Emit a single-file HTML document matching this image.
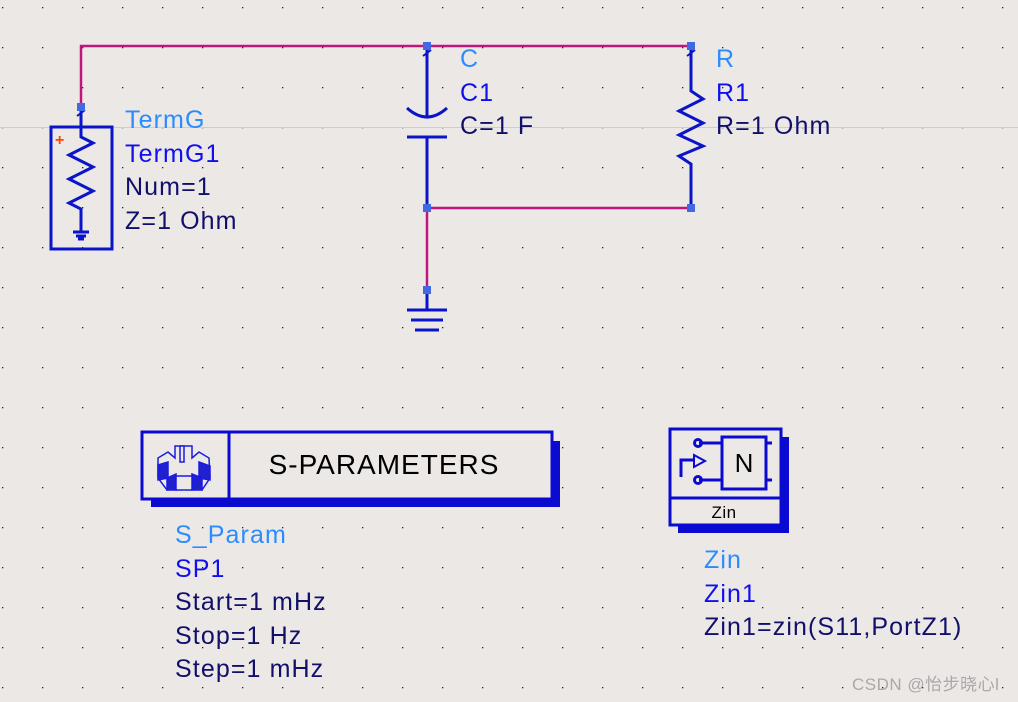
<!DOCTYPE html>
<html><head><meta charset="utf-8"><style>
html,body{margin:0;padding:0;background:#ece8e6;}
svg{display:block}
text{font-family:"Liberation Sans",sans-serif;font-size:25px;letter-spacing:1.1px}
.a{fill:#2a8cff}.b{fill:#1010ee}.c{fill:#10106a}
</style></head><body>
<svg width="1018" height="702" xmlns="http://www.w3.org/2000/svg">
<defs><pattern id="g" x="0" y="0" width="40" height="40" patternUnits="userSpaceOnUse"><rect x="2" y="7" width="1.3" height="1.3" fill="#222"/></pattern></defs>
<rect width="1018" height="702" fill="#ece8e6"/>
<rect width="1018" height="702" fill="url(#g)"/>
<line x1="0" y1="127.5" x2="1018" y2="127.5" stroke="#cfcccb" stroke-width="1"/>
<g stroke="#c0147e" stroke-width="2.5" fill="none">
<polyline points="81,107 81,46 691,46"/>
<line x1="427" y1="208" x2="691" y2="208"/>
<line x1="427" y1="208" x2="427" y2="290"/>
</g>
<g stroke="#0a14c8" stroke-width="3" fill="none">
<rect x="51" y="127" width="61" height="122"/>
<polyline points="81,107 81,137 93,143 69,155 93,167 69,179 93,191 69,203 81,209 81,232"/>
<line x1="73" y1="232" x2="89" y2="232"/><line x1="76" y1="236" x2="86" y2="236"/><line x1="78" y1="239" x2="84" y2="239"/>
<line x1="77" y1="116" x2="85" y2="110" stroke-width="2"/>
<line x1="427" y1="46" x2="427" y2="118"/>
<path d="M407,108 Q427,126 447,108"/>
<line x1="407" y1="137" x2="447" y2="137"/>
<line x1="427" y1="137" x2="427" y2="208"/>
<line x1="423" y1="56" x2="431" y2="50" stroke-width="2"/>
<line x1="427" y1="290" x2="427" y2="310"/>
<line x1="407" y1="310" x2="447" y2="310"/>
<line x1="411" y1="320" x2="443" y2="320"/>
<line x1="415" y1="330" x2="439" y2="330"/>
<polyline points="691,46 691,91 703,99 679,111 703,123 679,135 703,146 679,156 691,164 691,208"/>
<line x1="687" y1="56" x2="695" y2="50" stroke-width="2"/>
</g>
<g fill="#4169e1">
<rect x="77" y="103" width="8" height="8"/><rect x="423" y="42" width="8" height="8"/><rect x="687" y="42" width="8" height="8"/>
<rect x="423" y="204" width="8" height="8"/><rect x="687" y="204" width="8" height="8"/><rect x="423" y="286" width="8" height="8"/>
</g>
<text x="55" y="145" style="font-size:16px;font-weight:bold;letter-spacing:0" fill="#ff4500">+</text>
<text x="125" y="128" class="a">TermG</text>
<text x="125" y="162" class="b">TermG1</text>
<text x="125" y="195" class="c">Num=1</text>
<text x="125" y="229" class="c">Z=1 Ohm</text>
<text x="460" y="67" class="a">C</text>
<text x="460" y="101" class="b">C1</text>
<text x="460" y="134" class="c">C=1 F</text>
<text x="716" y="67" class="a">R</text>
<text x="716" y="101" class="b">R1</text>
<text x="716" y="134" class="c">R=1 Ohm</text>
<rect x="151" y="441" width="409" height="66" fill="#0a0ad0"/>
<rect x="142" y="432" width="410" height="67" fill="#ece8e6" stroke="#0a0ad0" stroke-width="3"/>
<line x1="229" y1="432" x2="229" y2="499" stroke="#0a0ad0" stroke-width="3"/>
<g stroke="#1a1ae0" stroke-width="1.5" fill="#ece8e6">
<path d="M158,458 L168,452 L175,458 L175,446 L192,446 L192,458 L199,452 L209,458 L210,478 L202,490 L194,480 L185,482 L176,480 L167,490 L158,478 Z"/>
<path d="M158,465 L168,462 L168,478 L158,480 Z M199,462 L210,466 L210,480 L199,478 Z M167,478 L176,474 L176,490 L167,490 Z M192,474 L202,478 L202,490 L192,490 Z" fill="#2020d0"/>
<path d="M176,476 L192,476 L192,490 L176,490 Z"/>
<path d="M180,446 L184,446 L184,462 L180,462 Z"/>
</g>
<text x="384" y="474" text-anchor="middle" style="font-size:28px;letter-spacing:1px" fill="#000">S-PARAMETERS</text>
<text x="175" y="543" class="a">S_Param</text>
<text x="175" y="577" class="b">SP1</text>
<text x="175" y="610" class="c">Start=1 mHz</text>
<text x="175" y="644" class="c">Stop=1 Hz</text>
<text x="175" y="677" class="c">Step=1 mHz</text>
<rect x="678" y="437" width="111" height="96" fill="#0a0ad0"/>
<rect x="670" y="429" width="111" height="96" fill="#ece8e6" stroke="#0a0ad0" stroke-width="3"/>
<line x1="670" y1="498" x2="781" y2="498" stroke="#0a0ad0" stroke-width="3"/>
<g stroke="#0a0ad0" stroke-width="3" fill="none">
<rect x="722" y="437" width="44" height="52"/>
<line x1="699" y1="443" x2="722" y2="443"/><line x1="699" y1="480" x2="722" y2="480"/>
<line x1="766" y1="443" x2="772" y2="443"/><line x1="766" y1="480" x2="772" y2="480"/>
<circle cx="698" cy="443" r="3.5"/><circle cx="698" cy="480" r="3.5"/>
<polyline points="681,477 681,460 694,460"/>
<path d="M694,455 L705,461 L694,467 Z" stroke-width="2"/>
</g>
<text x="744" y="472" text-anchor="middle" style="font-size:26px;letter-spacing:0" fill="#000">N</text>
<text x="724" y="518" text-anchor="middle" style="font-size:17px;letter-spacing:0.5px" fill="#000">Zin</text>
<text x="704" y="568" class="a">Zin</text>
<text x="704" y="602" class="b">Zin1</text>
<text x="704" y="635" class="c">Zin1=zin(S11,PortZ1)</text>
<text x="852" y="690" style="font-size:17px;letter-spacing:0.5px;font-family:'Liberation Sans','Noto Sans CJK SC',sans-serif" fill="#aaa8a8">CSDN @怡步晓心l</text>
</svg>
</body></html>
